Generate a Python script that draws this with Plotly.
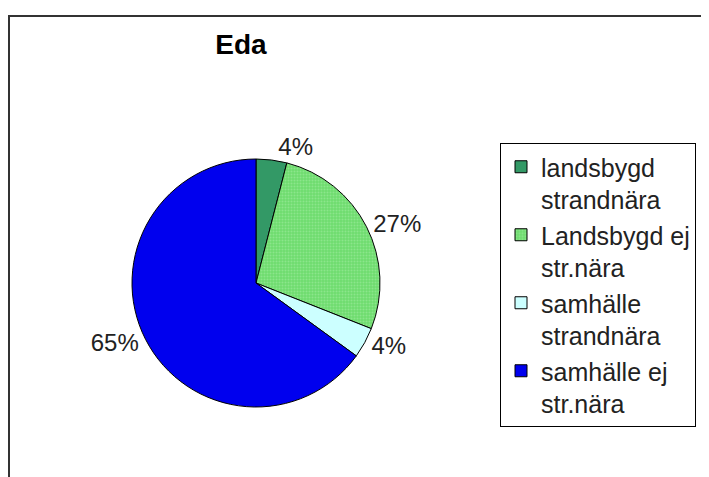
import plotly.graph_objects as go

labels = ["landsbygd<br>strandnära", "Landsbygd ej<br>str.nära", "samhälle<br>strandnära", "samhälle ej<br>str.nära"]
values = [4, 27, 4, 65]
colors = ["#339966", "#6EDC6E", "#CCFFFF", "#0000EE"]
patterns = ["", ".", "", ""]

# page body has an 8px margin, so the figure is 8px smaller each way
OFF = 8
W, H = 709 - OFF, 477 - OFF


def px(x):
    return (x - OFF) / W


def py(y):
    return 1 - (y - OFF) / H


cx, cy, R = 256, 283, 124

fig = go.Figure()
fig.add_trace(go.Pie(
    labels=labels,
    values=values,
    sort=False,
    direction="clockwise",
    rotation=0,
    marker=dict(colors=colors, line=dict(color="#000000", width=1),
                pattern=dict(shape=patterns, fillmode="overlay", fgcolor="#A8F0A8",
                             size=3, solidity=0.35)),
    textinfo="percent",
    texttemplate="%{percent:.0%}",
    textposition="outside",
    textfont=dict(family="Liberation Sans, Arial", size=24, color="#222222"),
    domain=dict(x=[px(cx - R), px(cx + R)], y=[py(cy + R), py(cy - R)]),
    showlegend=True,
    hoverinfo="skip",
))

fig.update_layout(
    width=W, height=H,
    margin=dict(l=0, r=0, t=0, b=0),
    paper_bgcolor="white",
    plot_bgcolor="white",
    font=dict(family="Liberation Sans, Arial", color="#222222"),
    title=dict(text="<b>Eda</b>", x=px(241), xanchor="center", y=py(44), yanchor="middle",
               font=dict(size=28, color="#000000")),
    legend=dict(
        x=px(500), y=py(143), xanchor="left", yanchor="top",
        bgcolor="white", bordercolor="#000000", borderwidth=1,
        font=dict(size=25, color="#222222"),
        valign="top",
        tracegroupgap=0,
    ),
    shapes=[dict(type="rect", xref="paper", yref="paper",
                 x0=px(9), y0=-0.05, x1=1.05, y1=py(16),
                 line=dict(color="#333333", width=2), layer="below")],
)

fig.write_html("out.html")
